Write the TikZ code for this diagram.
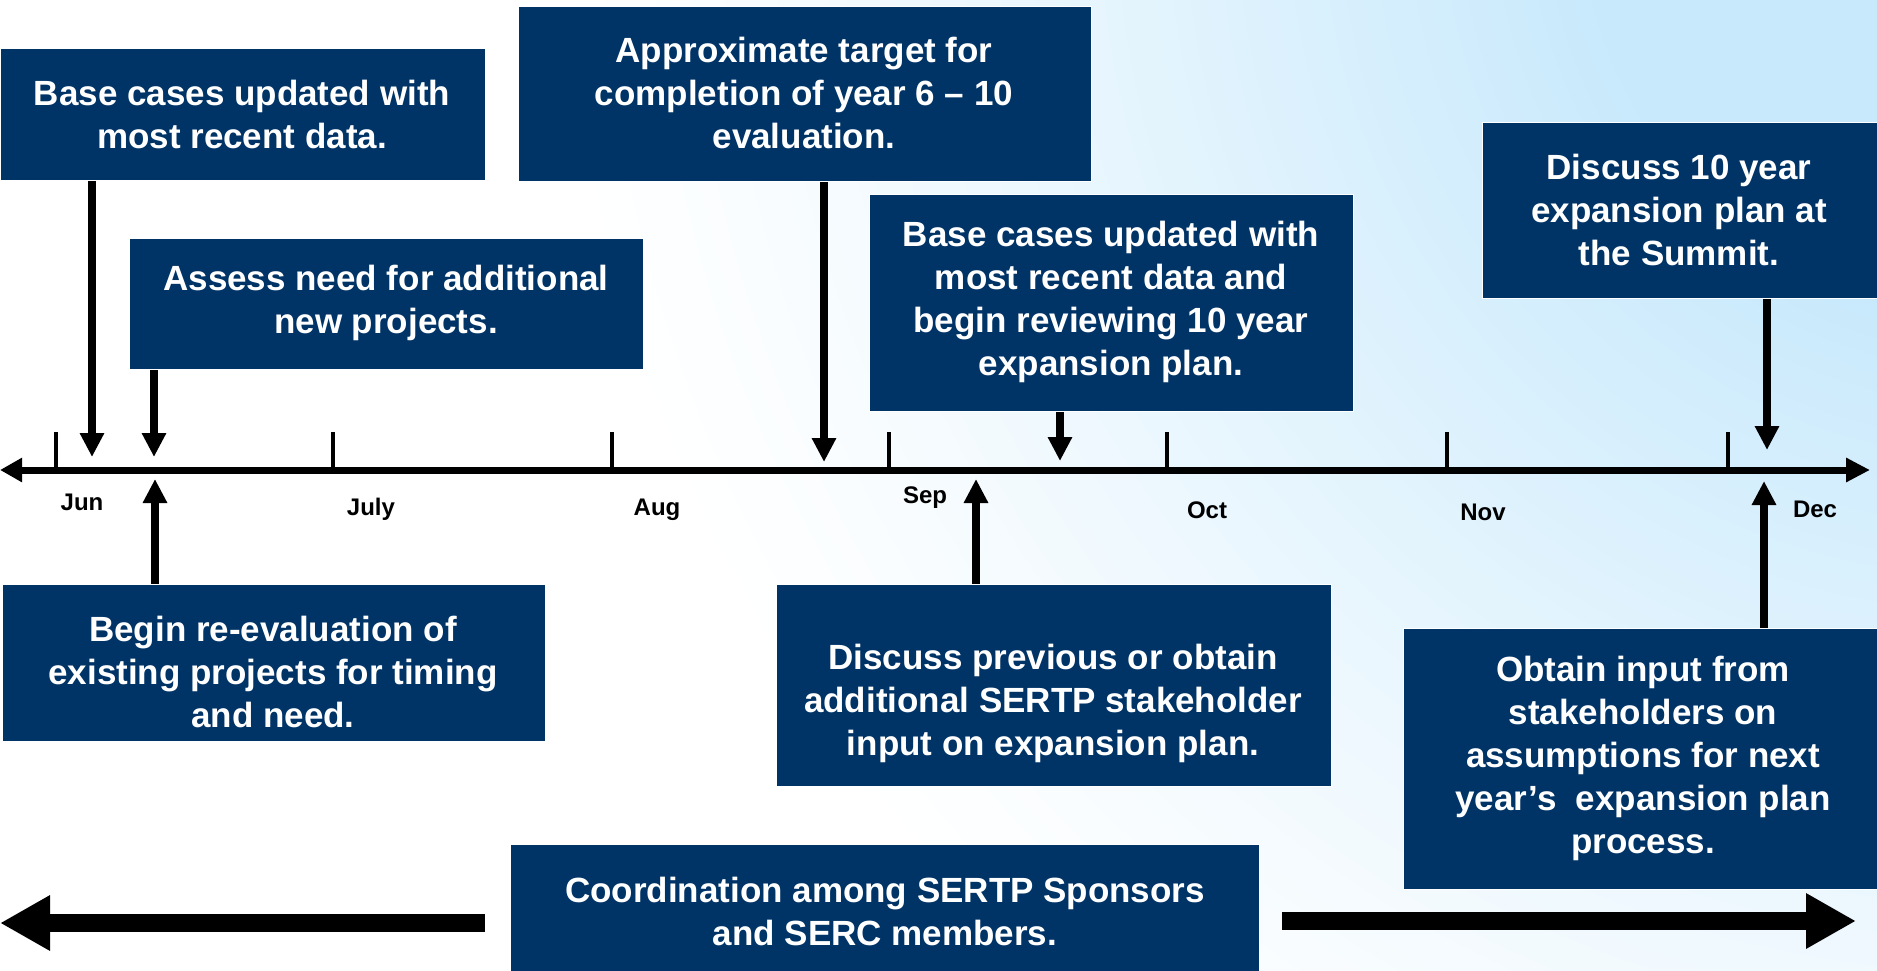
\documentclass[tikz,border=0pt]{standalone}
\usepackage{fontspec}
\setmainfont{Liberation Sans}
\usetikzlibrary{arrows.meta}
\definecolor{navy}{RGB}{0,51,102}
\definecolor{bgblue}{RGB}{200,233,252}
\begin{document}
\begin{tikzpicture}[x=1pt,y=-1pt,
  box/.style={draw=white, line width=1.2pt, fill=navy, inner sep=0pt, anchor=north west},
  boxtext/.style={text=white, font=\fontsize{35}{43}\selectfont\bfseries, align=center, inner sep=0pt},
  month/.style={font=\fontsize{24}{28}\selectfont\bfseries, inner sep=0pt},
  conn/.style={line width=8pt, -{Triangle[width=23pt,length=24pt]}},
  big/.style={line width=18pt, -{Triangle[width=52pt,length=50pt]}},
  tick/.style={line width=4.5pt}]
% background: soft blue glow from the top right corner
\begin{scope}
  \clip (0,0) rectangle (1877,971);
  \fill[white] (0,0) rectangle (1877,971);
  \foreach \i in {0,...,60}{
    \pgfmathsetmacro{\r}{1450-\i*17.1667}
    \pgfmathsetmacro{\p}{100*(\i/60)^1.2}
    \fill[bgblue!\p!white] (2000,-100) circle (\r);
  }
\end{scope}
\useasboundingbox (0,0) rectangle (1877,971);

% boxes
\node[box, minimum width=485pt, minimum height=132pt] (A) at (0,48) {};
\node[box, minimum width=573pt, minimum height=175pt] (B) at (518,6) {};
\node[box, minimum width=514pt, minimum height=131pt] (C) at (129,238) {};
\node[box, minimum width=484pt, minimum height=217pt] (D) at (869,194) {};
\node[box, minimum width=420pt, minimum height=176pt] (E) at (1482,122) {};
\node[box, minimum width=543pt, minimum height=157pt] (F) at (2,584) {};
\node[box, minimum width=555pt, minimum height=202pt] (G) at (776,584) {};
\node[box, minimum width=500pt, minimum height=261pt] (H) at (1403,628) {};
\node[box, minimum width=749pt, minimum height=140pt] (I) at (510,844) {};

% box texts
\node[boxtext] (At) at (242,114) {Base cases updated with\\most recent data.};
\node[boxtext] (Bt) at (804,93) {Approximate target for\\completion of year 6 – 10\\evaluation.};
\node[boxtext] (Ct) at (386,303) {Assess need for additional\\new projects.};
\node[boxtext] (Dt) at (1111,302) {Base cases updated with\\most recent data and\\begin reviewing 10 year\\expansion plan.};
\node[boxtext] (Et) at (1679,210) {Discuss 10 year\\expansion plan at\\the Summit.};
\node[boxtext] (Ft) at (273,672) {Begin re-evaluation of\\existing projects for timing\\and need.};
\node[boxtext] (Gt) at (1053,703) {Discuss previous or obtain\\additional SERTP stakeholder\\input on expansion plan.};
\node[boxtext] (Ht) at (1643,758) {Obtain input from\\stakeholders on\\assumptions for next\\year’s\ \ expansion plan\\process.};
\node[boxtext] (It) at (885,911) {Coordination among SERTP Sponsors\\and SERC members.};

% timeline
\coordinate (tlL) at (0,470);
\coordinate (tlR) at (1870,470);
\draw[line width=7pt, {Triangle[width=23pt,length=22pt]}-{Triangle[width=23pt,length=24pt]}] (tlL) -- (tlR);
\foreach \x in {56,333,612,889,1167,1447,1728}
  \draw[tick] (\x,432) -- (\x,470);

% month labels
\node[month] (jun) at (82,502) {Jun};
\node[month] (jul) at (371,509) {July};
\node[month] (aug) at (657,510) {Aug};
\node[month] (sep) at (925,498) {Sep};
\node[month] (oct) at (1207,510) {Oct};
\node[month] (nov) at (1483,512) {Nov};
\node[month] (dec) at (1815,509) {Dec};

% down connectors
\coordinate (t1) at (92,457);
\coordinate (t2) at (154,457);
\coordinate (t3) at (824,462);
\coordinate (t4) at (1060,461);
\coordinate (t5) at (1767,450);
\draw[conn] (t1 |- A.south) -- (t1);
\draw[conn] (t2 |- C.south) -- (t2);
\draw[conn] (t3 |- B.south) -- (t3);
\draw[conn] (t4 |- D.south) -- (t4);
\draw[conn] (t5 |- E.south) -- (t5);
% up connectors
\coordinate (u1) at (155,479);
\coordinate (u2) at (976,479);
\coordinate (u3) at (1764,481);
\draw[conn] (u1 |- F.north) -- (u1);
\draw[conn] (u2 |- G.north) -- (u2);
\draw[conn] (u3 |- H.north) -- (u3);

% big arrows
\coordinate (bigL) at (0,923);
\coordinate (bigR) at (1856,921);
\draw[big, shorten <=25pt] (I.west |- bigL) -- (bigL);
\draw[big, shorten <=22pt] (I.east |- bigR) -- (bigR);
\end{tikzpicture}
\end{document}
